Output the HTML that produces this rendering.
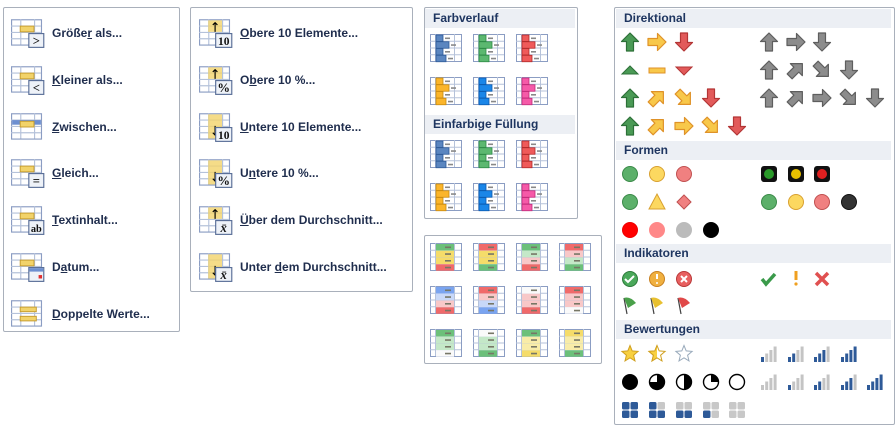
<!DOCTYPE html>
<html><head><meta charset="utf-8"><style>
body{margin:0;width:896px;height:440px;background:#fff;position:relative;overflow:hidden;font-family:"Liberation Sans",sans-serif}
.p{position:absolute;border:1px solid #a9b0bb;border-radius:2px;background:#fff}
.t{position:absolute;font-size:12px;font-weight:bold;color:#1f2d4d;white-space:nowrap;line-height:14px}
.h{position:absolute;background:#eceff4;font-size:12px;font-weight:bold;color:#1e3560;padding-left:8px;line-height:19px;height:19px}
svg{position:absolute;left:0;top:0}
</style></head><body>
<div class="p" style="left:3px;top:7px;width:175px;height:323px"></div>
<div class="p" style="left:190px;top:7px;width:221px;height:283px"></div>
<div class="p" style="left:424px;top:7px;width:152px;height:210px"></div>
<div class="p" style="left:424px;top:235px;width:176px;height:127px"></div>
<div class="p" style="left:614px;top:7px;width:279px;height:416px"></div>
<div class="h" style="left:425px;top:9px;width:142px">Farbverlauf</div>
<div class="h" style="left:425px;top:115px;width:142px">Einfarbige Füllung</div>
<div class="h" style="left:616px;top:9px;width:267px">Direktional</div>
<div class="h" style="left:616px;top:141px;width:267px">Formen</div>
<div class="h" style="left:616px;top:244px;width:267px">Indikatoren</div>
<div class="h" style="left:616px;top:320px;width:267px">Bewertungen</div>

<div class="t" style="left:52px;top:26px">Größe<u>r</u> als...</div>
<div class="t" style="left:52px;top:73px"><u>K</u>leiner als...</div>
<div class="t" style="left:52px;top:120px"><u>Z</u>wischen...</div>
<div class="t" style="left:52px;top:166px"><u>G</u>leich...</div>
<div class="t" style="left:52px;top:213px"><u>T</u>extinhalt...</div>
<div class="t" style="left:52px;top:260px">D<u>a</u>tum...</div>
<div class="t" style="left:52px;top:307px"><u>D</u>oppelte Werte...</div>
<div class="t" style="left:240px;top:26px"><u>O</u>bere 10 Elemente...</div>
<div class="t" style="left:240px;top:73px">O<u>b</u>ere 10 %...</div>
<div class="t" style="left:240px;top:120px"><u>U</u>ntere 10 Elemente...</div>
<div class="t" style="left:240px;top:166px">U<u>n</u>tere 10 %...</div>
<div class="t" style="left:240px;top:213px"><u>Ü</u>ber dem Durchschnitt...</div>
<div class="t" style="left:240px;top:260px">Unter <u>d</u>em Durchschnitt...</div>

<svg id="g" width="896" height="440" xmlns="http://www.w3.org/2000/svg"></svg>
<script>
let h='';
const G='#4a9a55',GS='#2d7038',Y='#f8c84a',YS='#df9228',R='#e25a5a',RS='#b33535',A='#8c8c8c',AS='#5e5e5e';
function grid(x,y,w,hh,cols,rows){let s=`<rect x="${x+.5}" y="${y+.5}" width="${w}" height="${hh}" fill="#fff" stroke="#8b9dc3"/>`;
for(let i=1;i<rows;i++){let yy=y+.5+hh*i/rows;s+=`<line x1="${x}" x2="${x+w}" y1="${yy}" y2="${yy}" stroke="#b5c2da"/>`}
for(const c of cols)s+=`<line x1="${x+c+.5}" x2="${x+c+.5}" y1="${y}" y2="${y+hh}" stroke="#b5c2da"/>`;return s;}
function sc(x,cy,s){return `<g transform="translate(${x} ${cy}) scale(1.15) translate(${-x} ${-cy})">${s}</g>`}
function ic1(x,cy,sign,kind){let y=cy-12;let s=grid(x,y,26,22,[8,20],4);
 if(kind=='z'){s+=`<rect x="${x+1}" y="${y+6}" width="25" height="4" fill="#6d8fd0"/><rect x="${x+8}" y="${y+7}" width="12" height="5" fill="#f2d36a" stroke="#c49a2c" stroke-width=".8"/>`}
 else if(kind=='d'){s+=`<rect x="${x+8}" y="${y+6}" width="14" height="4" fill="#f2d36a" stroke="#c49a2c" stroke-width=".8"/><rect x="${x+8}" y="${y+14}" width="14" height="4" fill="#f2d36a" stroke="#c49a2c" stroke-width=".8"/>`}
 else s+=`<rect x="${x+8}" y="${y+6}" width="12" height="5" fill="#f2d36a" stroke="#c49a2c" stroke-width=".8"/>`;
 if(sign){s+=`<rect x="${x+15.5}" y="${y+12.5}" width="13" height="12" fill="#eef2f8" stroke="#5a6f98"/>`;
  if(sign=='cal'){s+=`<rect x="${x+16}" y="${y+13}" width="12" height="3" fill="#6d8fd0"/><rect x="${x+24}" y="${y+19}" width="3" height="3" fill="#e03030"/>`}
  else s+=`<text x="${x+22}" y="${y+22.5}" font-size="${sign.length>1?9:11}" font-family="Liberation Serif" font-weight="bold" text-anchor="middle" fill="#111">${sign}</text>`;}
 return sc(x,cy,s);}
function ic2(x,cy,up,sign){let y=cy-12;let s=grid(x,y,26,22,[8,20],4);
 s+=`<rect x="${x+8}" y="${y+1}" width="12" height="${up?10:21}" fill="#f2d36a" opacity=".8"/>`;
 s+=up?`<path d="M${x+14} ${y+3}v8M${x+12} ${y+5}l2-2 2 2" stroke="#000" fill="none"/>`:`<path d="M${x+14} ${y+11}v8M${x+12} ${y+17}l2 2 2-2" stroke="#000" fill="none"/>`;
 s+=`<rect x="${x+14.5}" y="${y+12.5}" width="14" height="12" fill="#eef2f8" stroke="#5a6f98"/><text x="${x+21.5}" y="${y+22.5}" font-size="${sign=='10'?10:11}" font-family="Liberation Serif" font-weight="bold" text-anchor="middle" fill="#111" ${sign=='x̄'?'font-style="italic"':''}>${sign}</text>`;return sc(x,cy,s);}
const ys=[33,80,127,173,220,267,314];
h+=ic1(11,ys[0],'>')+ic1(11,ys[1],'<')+ic1(11,ys[2],'','z')+ic1(11,ys[3],'=')+ic1(11,ys[4],'ab')+ic1(11,ys[5],'cal')+ic1(11,ys[6],'','d');
h+=ic2(199,ys[0],1,'10')+ic2(199,ys[1],1,'%')+ic2(199,ys[2],0,'10')+ic2(199,ys[3],0,'%')+ic2(199,ys[4],1,'x̄')+ic2(199,ys[5],0,'x̄');
function bar(x,y,c,sc){let s=grid(x,y,31,27,[5,24],4);const w=[7,13,7,10];
 for(let i=0;i<4;i++){let yy=y+1+i*6.75;s+=`<rect x="${x+6}" y="${yy}" width="${w[i]}" height="6.5" fill="${c}" stroke="${sc}" stroke-width=".8"/><rect x="${x+8+w[i]}" y="${yy+2.5}" width="5" height="1.6" fill="#888"/>`}return s;}
const bc=[['#5b86c0','#2e5a98'],['#5cb870','#2d8a45'],['#ef5a5a','#b02a2a'],['#fbb52a','#c98a10'],['#1a86e8','#0a5ab0'],['#f55aa8','#c02a78']];
[[34,0],[77,3],[140,0],[183,3]].forEach(([y,o])=>{for(let i=0;i<3;i++){const c=bc[o+i];h+=bar(430+i*43,y,c[0],c[1])}});
function cs(x,y,cols){let s=grid(x,y,31,27,[5,24],4);for(let i=0;i<4;i++){s+=`<rect x="${x+6}" y="${y+1+i*6.75}" width="18" height="6.5" fill="${cols[i]}"/><rect x="${x+15}" y="${y+3.5+i*6.75}" width="6" height="1.6" fill="#776"/>`}return s;}
const gr='#6cc07a',yl='#f5dc6a',rd='#f06a6a',wh='#fafafa',bl='#7aa4f0',lg='#c4e8c8',lr='#f8c8c8',lb='#c8d8f8',ly='#f8eca8';
const csets=[[gr,yl,yl,rd],[rd,yl,yl,gr],[gr,lg,lr,rd],[rd,lr,lg,gr],[bl,lb,lr,rd],[rd,lr,lb,bl],[wh,lr,lr,rd],[rd,lr,lr,wh],[gr,lg,lg,wh],[wh,lg,lg,gr],[gr,ly,ly,yl],[yl,ly,ly,gr]];
csets.forEach((c,i)=>{h+=cs(430+(i%4)*43,243+Math.floor(i/4)*43,c)});
function arr(cx,cy,rot,f,st){return `<path transform="translate(${cx} ${cy}) rotate(${rot})" d="M0-9L8.5-0.5H3.5V9H-3.5V-0.5H-8.5Z" fill="${f}" stroke="${st}" stroke-width="1.2" stroke-linejoin="round"/>`}
const U=0,Rt=90,Dn=180,NE=45,SE=135;
const L=[630,657,684,711,737],Rx=[769,796,822,849,875];
h+=arr(L[0],42,U,G,GS)+arr(L[1],42,Rt,Y,YS)+arr(L[2],42,Dn,R,RS)+arr(Rx[0],42,U,A,AS)+arr(Rx[1],42,Rt,A,AS)+arr(Rx[2],42,Dn,A,AS);
h+=`<path d="M622 74L630 66L638 74Z" fill="${G}" stroke="${GS}"/><rect x="649" y="68" width="16" height="5" fill="${Y}" stroke="${YS}"/><path d="M676 67L692 67L684 75Z" fill="${R}" stroke="${RS}"/>`;
h+=arr(Rx[0],70,U,A,AS)+arr(Rx[1],70,NE,A,AS)+arr(Rx[2],70,SE,A,AS)+arr(Rx[3],70,Dn,A,AS);
h+=arr(L[0],98,U,G,GS)+arr(L[1],98,NE,Y,YS)+arr(L[2],98,SE,Y,YS)+arr(L[3],98,Dn,R,RS)+arr(Rx[0],98,U,A,AS)+arr(Rx[1],98,NE,A,AS)+arr(Rx[2],98,Rt,A,AS)+arr(Rx[3],98,SE,A,AS)+arr(Rx[4],98,Dn,A,AS);
h+=arr(L[0],126,U,G,GS)+arr(L[1],126,NE,Y,YS)+arr(L[2],126,Rt,Y,YS)+arr(L[3],126,SE,Y,YS)+arr(L[4],126,Dn,R,RS);
function cir(cx,cy,f,st){return `<circle cx="${cx}" cy="${cy}" r="7.5" fill="${f}" stroke="${st||'#888'}"/>`}
h+=cir(L[0],174,'#5cb06a','#3a8a48')+cir(L[1],174,'#fcd860','#d8a030')+cir(L[2],174,'#f08080','#c05050');
[['#2a9a2a'],['#e8c000'],['#e02020']].forEach((c,i)=>{h+=`<rect x="${Rx[i]-8}" y="166" width="16" height="16" rx="3" fill="#111"/><circle cx="${Rx[i]}" cy="174" r="5" fill="${c[0]}"/>`});
h+=cir(L[0],202,'#5cb06a','#3a8a48')+`<path d="M657 194L665 209H649Z" fill="#fcd860" stroke="#d8a030"/><path d="M684 195L691 202L684 209L677 202Z" fill="#f08080" stroke="#c05050"/>`;
h+=cir(Rx[0],202,'#5cb06a','#3a8a48')+cir(Rx[1],202,'#fcd860','#d8a030')+cir(Rx[2],202,'#f08080','#c05050')+cir(Rx[3],202,'#333','#111');
h+=cir(L[0],230,'#f00','#e00')+cir(L[1],230,'#f88','#f88')+cir(L[2],230,'#bbb','#bbb')+cir(L[3],230,'#000','#000');
h+=cir(L[0],279,'#4aa85a','#2d7a3a')+`<path d="M625 279l3 3 6-6" stroke="#fff" stroke-width="2" fill="none"/>`+cir(L[1],279,'#f0b040','#c88020')+`<path d="M657 274v5" stroke="#fff" stroke-width="2"/><circle cx="657" cy="283" r="1" fill="#fff"/>`+cir(L[2],279,'#e86060','#b83838')+`<path d="M681 276l6 6M687 276l-6 6" stroke="#fff" stroke-width="2"/>`;
h+=`<path d="M762 279l4 5 9-10" stroke="#3a9a4a" stroke-width="3.5" fill="none"/><path d="M796 271v9" stroke="#f0a020" stroke-width="3"/><circle cx="796" cy="284" r="1.6" fill="#f0a020"/><path d="M816 273l12 12M828 273l-12 12" stroke="#e05050" stroke-width="3.5"/>`;
[['#4aa04a'],['#e8c030'],['#e04848']].forEach((c,i)=>{let x=L[i]-6;h+=`<path d="M${x} 298L${x+3} 314" stroke="#444" stroke-width="1.2"/><path d="M${x} 298Q${x+6} 296 ${x+12} 303L${x+4} 308Z" fill="${c[0]}"/>`});
function star(cx,cy,f,half){const pts=[];for(let i=0;i<10;i++){const r=i%2?3.8:8.5,a=-Math.PI/2+i*Math.PI/5;pts.push((cx+r*Math.cos(a)).toFixed(1)+','+(cy+r*Math.sin(a)).toFixed(1))}
 let s=`<polygon points="${pts}" fill="${half?'#fff':f}" stroke="${f=='#fff'?'#9ab':'#d0a020'}"/>`;if(half)s+=`<clipPath id="hc"><rect x="${cx-9}" y="${cy-9}" width="9" height="18"/></clipPath><polygon clip-path="url(#hc)" points="${pts}" fill="#f8d040" stroke="#d0a020"/>`;return s;}
h+=star(L[0],354,'#f8d040')+star(L[1],354,'#f8d040',1)+star(L[2],354,'#fff');
function bars(cx,cy,n){let s='';for(let i=0;i<4;i++){const hh=5+i*3.5;s+=`<rect x="${cx-8+i*4.2}" y="${cy+8-hh}" width="3" height="${hh}" fill="${i<n?'#2e5a98':'#c4c4c4'}"/>`}return s;}
h+=bars(Rx[0],354,1)+bars(Rx[1],354,2)+bars(Rx[2],354,3)+bars(Rx[3],354,4);
h+=bars(Rx[0],382,0)+bars(Rx[1],382,1)+bars(Rx[2],382,2)+bars(Rx[3],382,3)+bars(Rx[4],382,4);
function pie(cx,cy,q){let s=`<circle cx="${cx}" cy="${cy}" r="7.5" fill="#fff" stroke="#000" stroke-width="1.4"/>`;const r=7.5;
 if(q==4)s=`<circle cx="${cx}" cy="${cy}" r="8" fill="#000"/>`;
 else if(q==3)s+=`<path d="M${cx} ${cy}V${cy-r}A${r} ${r} 0 1 1 ${cx-r} ${cy}Z"/>`;
 else if(q==2)s+=`<path d="M${cx} ${cy-r}A${r} ${r} 0 0 1 ${cx} ${cy+r}Z"/>`;
 else if(q==1)s+=`<path d="M${cx} ${cy}V${cy-r}A${r} ${r} 0 0 1 ${cx+r} ${cy}Z"/>`;return s;}
for(let i=0;i<5;i++)h+=pie(L[i],382,4-i);
function sq(cx,cy,n){let s='';const pos=[[0,0],[1,0],[0,1],[1,1]],onp=[[1,1,1,1],[1,0,1,1],[0,0,1,1],[0,0,1,0],[0,0,0,0]][n];
 for(let i=0;i<4;i++){s+=`<rect x="${cx-8+pos[i][0]*8.5}" y="${cy-8+pos[i][1]*8.5}" width="7.5" height="7.5" rx="1.5" fill="${onp[i]?'#2e5a98':'#c8c8c8'}"/>`}return s;}
for(let i=0;i<5;i++)h+=sq(L[i],410,i);
document.getElementById('g').innerHTML=h;
</script>
</body></html>
